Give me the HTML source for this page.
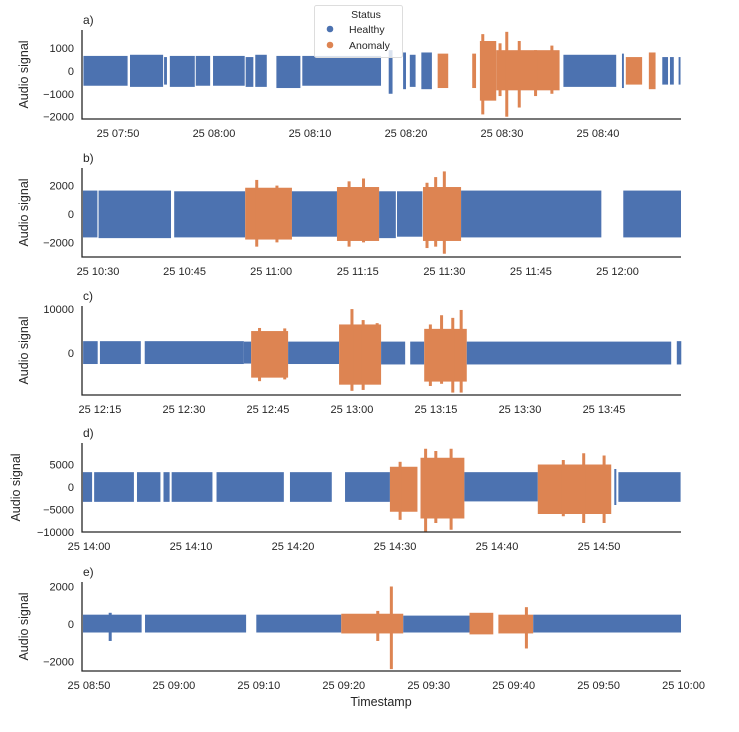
<!DOCTYPE html>
<html><head><meta charset="utf-8"><style>
html,body{margin:0;padding:0;background:#fff;}
svg text{font-family:"Liberation Sans","DejaVu Sans",sans-serif;fill:#262626;}
</style></head><body>
<svg id="chart" width="739" height="727" xmlns="http://www.w3.org/2000/svg"></svg>
<script>
// ---------- DATA (segments: [startMin, endMin, hi, lo, status]; spikes: [min, lo, hi, status]) ----------
const panelLabels = ["a)","b)","c)","d)","e)"];
const aSegs = [[-3.6,1.0,650,-650,"H"],[1.25,4.7,700,-700,"H"],[4.8,5.1,600,-600,"H"],[5.4,8.0,650,-700,"H"],[8.1,9.6,650,-650,"H"],[9.9,13.2,650,-650,"H"],[13.3,14.1,600,-700,"H"],[14.3,15.5,700,-700,"H"],[16.5,19.0,650,-750,"H"],[19.2,27.4,650,-650,"H"],[28.2,28.6,900,-1000,"H"],[29.7,30.0,800,-800,"H"],[30.4,31.0,700,-700,"H"],[31.6,32.7,800,-800,"H"],[33.3,34.4,750,-750,"A"],[36.9,37.3,750,-750,"A"],[37.7,39.4,1300,-1300,"A"],[39.4,46.0,900,-850,"A"],[46.4,51.9,700,-700,"H"],[52.5,52.7,750,-750,"H"],[52.9,54.6,600,-600,"A"],[55.3,56.0,800,-800,"A"],[56.7,57.3,600,-600,"H"],[57.5,57.9,600,-600,"H"],[58.4,58.6,600,-600,"H"]];
const aSpikes = [[38.0,-1900,1600,"A"],[40.5,-2000,1700,"A"],[41.8,-1600,1300,"A"],[39.8,-1100,1200,"A"],[43.5,-1100,900,"A"],[45.2,-1000,1100,"A"]];
const bSegs = [[-2.6,-0.1,1650,-1650,"H"],[0.1,12.65,1650,-1700,"H"],[13.2,25.5,1600,-1650,"H"],[25.5,33.6,1850,-1800,"A"],[33.6,41.4,1600,-1600,"H"],[41.4,48.7,1900,-1900,"A"],[48.7,51.6,1600,-1700,"H"],[51.8,56.2,1600,-1600,"H"],[56.3,62.9,1900,-1900,"A"],[62.9,87.2,1650,-1650,"H"],[91.0,101,1650,-1650,"H"]];
const bSpikes = [[27.5,-2300,2400,"A"],[31,-2000,2000,"A"],[43.5,-2300,2300,"A"],[46,-2000,2500,"A"],[60,-2800,3000,"A"],[57,-2400,2200,"A"],[58.5,-2300,2600,"A"]];
const cSegs = [[-3.0,-0.4,2700,-2500,"H"],[0,7.3,2700,-2500,"H"],[8.0,25.7,2700,-2500,"H"],[25.7,27.0,2600,-2400,"H"],[27.0,33.6,5000,-5600,"A"],[33.6,42.7,2600,-2500,"H"],[42.7,50.2,6500,-7200,"A"],[50.2,54.5,2600,-2600,"H"],[55.4,57.9,2600,-2600,"H"],[57.9,65.5,5500,-6500,"A"],[65.5,102,2600,-2600,"H"],[103,103.8,2700,-2600,"H"]];
const cSpikes = [[45,-8600,10000,"A"],[64.5,-9000,9800,"A"],[61,-7000,8600,"A"],[28.5,-6400,5700,"A"],[33,-6000,5600,"A"],[47,-8400,7500,"A"],[49.5,-6000,6800,"A"],[63,-9000,8000,"A"],[59,-7500,6500,"A"]];
const dSegs = [[-0.6,0.3,3300,-3300,"H"],[0.5,4.4,3300,-3300,"H"],[4.7,7.0,3300,-3300,"H"],[7.3,7.9,3300,-3300,"H"],[8.1,12.1,3300,-3300,"H"],[12.5,19.1,3300,-3300,"H"],[19.7,23.8,3300,-3300,"H"],[25.1,29.5,3300,-3300,"H"],[29.5,32.2,4500,-5500,"A"],[32.5,36.8,6500,-7000,"A"],[36.8,44.0,3300,-3200,"H"],[44.0,51.2,5000,-6000,"A"],[51.5,51.7,4000,-4000,"H"],[51.9,58.0,3300,-3300,"H"]];
const dSpikes = [[33,-10000,8500,"A"],[35.5,-9500,8500,"A"],[30.5,-7300,5600,"A"],[34,-8000,8000,"A"],[48.5,-8000,7500,"A"],[50.5,-8000,7000,"A"],[46.5,-6500,6000,"A"]];
const eSegs = [[-0.7,6.2,500,-450,"H"],[6.6,18.5,500,-450,"H"],[19.7,29.7,500,-450,"H"],[29.7,37.0,550,-500,"A"],[37.0,44.8,450,-450,"H"],[44.8,47.6,600,-550,"A"],[48.2,52.3,500,-500,"A"],[52.3,69.7,500,-450,"H"]];
const eSpikes = [[2.5,-900,600,"H"],[35.6,-2400,2000,"A"],[51.5,-1300,900,"A"],[34.0,-900,700,"A"]];
const aXTicks = ["25 07:50","25 08:00","25 08:10","25 08:20","25 08:30","25 08:40"];
const bXTicks = ["25 10:30","25 10:45","25 11:00","25 11:15","25 11:30","25 11:45","25 12:00"];
const cXTicks = ["25 12:15","25 12:30","25 12:45","25 13:00","25 13:15","25 13:30","25 13:45"];
const dXTicks = ["25 14:00","25 14:10","25 14:20","25 14:30","25 14:40","25 14:50"];
const eXTicks = ["25 08:50","25 09:00","25 09:10","25 09:20","25 09:30","25 09:40","25 09:50","25 10:00"];
const aYTicks = [1000,0,-1000,-2000];
const bYTicks = [2000,0,-2000];
const cYTicks = [10000,0];
const dYTicks = [5000,0,-5000,-10000];
const eYTicks = [2000,0,-2000];

// ---------- LAYOUT ----------
const X0=82, X1=681;
const panels=[
 {segs:aSegs,spikes:aSpikes,xt:aXTicks,yt:aYTicks,step:10,top:30,bot:119,tmin:-3.75,tmax:58.65,ymin:-2100,ymax:1780},
 {segs:bSegs,spikes:bSpikes,xt:bXTicks,yt:bYTicks,step:15,top:168,bot:257,tmin:-2.77,tmax:101.0,ymin:-3030,ymax:3240},
 {segs:cSegs,spikes:cSpikes,xt:cXTicks,yt:cYTicks,step:15,top:306,bot:395,tmin:-3.2,tmax:103.75,ymin:-9550,ymax:10700},
 {segs:dSegs,spikes:dSpikes,xt:dXTicks,yt:dYTicks,step:10,top:443,bot:532,tmin:-0.69,tmax:58.04,ymin:-10000,ymax:9780},
 {segs:eSegs,spikes:eSpikes,xt:eXTicks,yt:eYTicks,step:10,top:582,bot:671,tmin:-0.82,tmax:69.7,ymin:-2500,ymax:2240}
];
const COL={H:"#4c72b0",A:"#dd8452"};
const NS="http://www.w3.org/2000/svg";
const svg=document.getElementById("chart");
function mk(tag,attrs,parent){const e=document.createElementNS(NS,tag);for(const k in attrs)e.setAttribute(k,attrs[k]);(parent||svg).appendChild(e);return e;}
function fmt(v){return v<0?"\u2212"+Math.abs(v):String(v);}

panels.forEach((p,i)=>{
  const g=mk("g",{});
  
  
  const xs=t=>X0+(t-p.tmin)/(p.tmax-p.tmin)*(X1-X0);
  const ys=v=>p.bot-(v-p.ymin)/(p.ymax-p.ymin)*(p.bot-p.top);
  p.segs.forEach(s=>{
    const r=mk("rect",{x:xs(s[0]),y:ys(s[2]),width:Math.max(1,xs(s[1])-xs(s[0])),height:ys(s[3])-ys(s[2]),fill:COL[s[4]]},g);
    
    
  });
  p.spikes.forEach(s=>{
    const r=mk("rect",{x:xs(s[0])-1.5,y:ys(s[2]),width:3,height:ys(s[1])-ys(s[2]),fill:COL[s[3]]},g);
    
    
  });
  const ax=mk("path",{d:`M${X0} ${p.top}V${p.bot}H${X1}`,stroke:"#262626","stroke-width":1.3,fill:"none"},g);
  
  
  p.yt.forEach(v=>{
    const t=mk("text",{x:74,y:ys(v)+4,"text-anchor":"end","font-size":11},g);
    t.textContent=fmt(v);
    
    
  });
  p.xt.forEach((lab,k)=>{
    const t=mk("text",{x:xs(k*p.step),y:p.bot+18,"text-anchor":"middle","font-size":11},g);
    t.textContent=lab;
    
    
  });
  const pl=mk("text",{x:83,y:p.top-6,"font-size":12},g);
  pl.textContent=panelLabels[i];
  
  
  const yt=mk("text",{x:0,y:0,"text-anchor":"middle","font-size":12.5,transform:`translate(${i===3?20:28},${(p.top+p.bot)/2}) rotate(-90)`},g);
  yt.textContent="Audio signal";
  
  
});
const xt=mk("text",{x:381,y:706,"text-anchor":"middle","font-size":12.5});
xt.textContent="Timestamp";



// legend
const lg=mk("g",{});


mk("rect",{x:314.5,y:5.5,width:88,height:52,fill:"#fff","fill-opacity":0.8,stroke:"#ddd",rx:2},lg);
const lt=mk("text",{x:366,y:18,"text-anchor":"middle","font-size":10.5},lg);
lt.textContent="Status";


[["Healthy","H",33],["Anomaly","A",49]].forEach(e=>{
  const c=mk("circle",{cx:330,cy:e[2]-4,r:3.3,fill:COL[e[1]]},lg);
  
  
  const t=mk("text",{x:349,y:e[2],"font-size":10.5},lg);
  t.textContent=e[0];
  
  
});
</script>
</body></html>
